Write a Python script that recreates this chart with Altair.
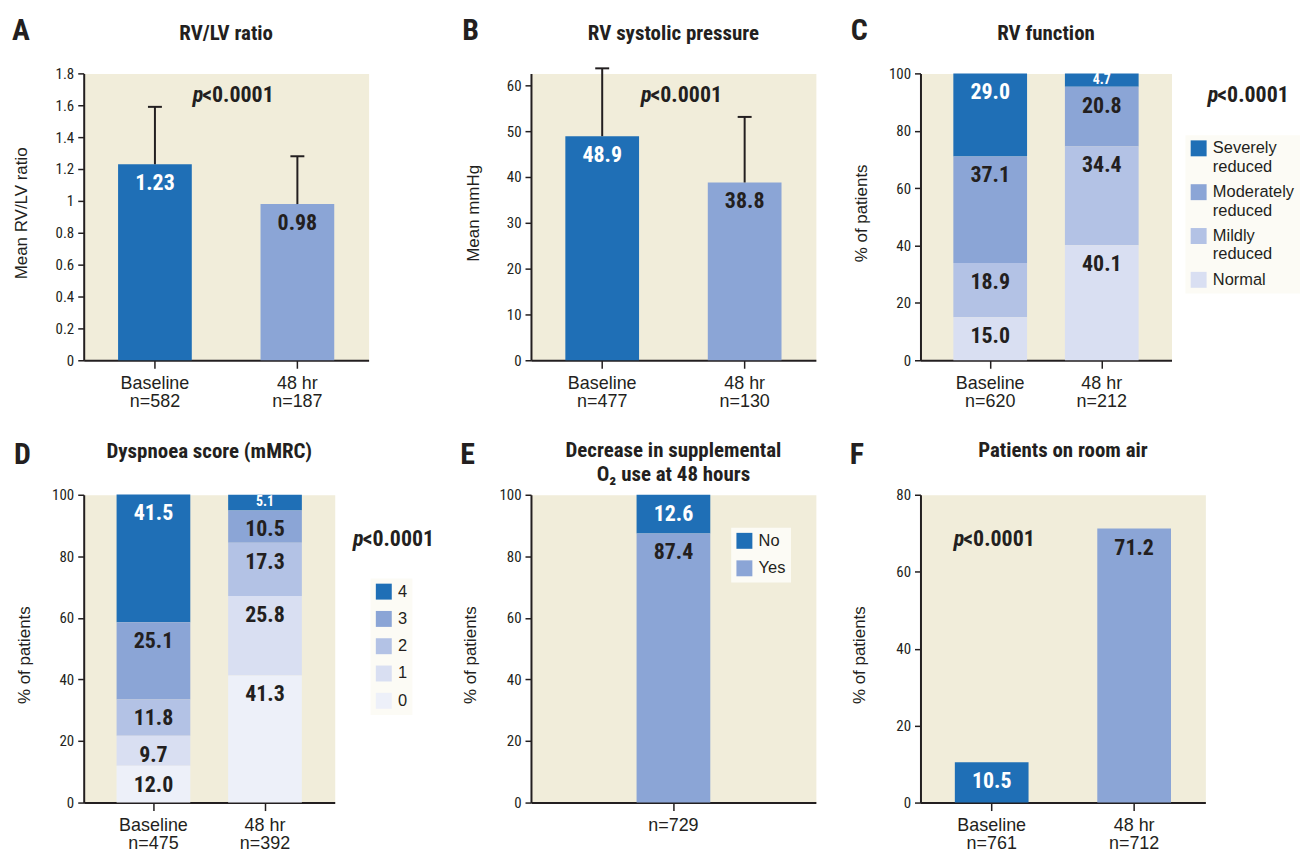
import altair as alt
import pandas as pd

# ---------------- data ----------------
GROUPS = ["Baseline", "48 hr"]

A_N = ["n=582", "n=187"]
A_MEAN = [1.23, 0.98]
A_UPPER = [1.59, 1.28]
A_TICKS = [0, 0.2, 0.4, 0.6, 0.8, 1, 1.2, 1.4, 1.6, 1.8]

B_N = ["n=477", "n=130"]
B_MEAN = [48.9, 38.8]
B_UPPER = [63.7, 53.1]
B_TICKS = [0, 10, 20, 30, 40, 50, 60]

C_N = ["n=620", "n=212"]
C_LEVELS = ["Severely|reduced", "Moderately|reduced", "Mildly|reduced", "Normal"]
C_BASELINE = [29.0, 37.1, 18.9, 15.0]
C_48HR = [4.7, 20.8, 34.4, 40.1]

D_N = ["n=475", "n=392"]
D_LEVELS = ["4", "3", "2", "1", "0"]
D_BASELINE = [41.5, 25.1, 11.8, 9.7, 12.0]
D_48HR = [5.1, 10.5, 17.3, 25.8, 41.3]

E_N = ["n=729"]
E_LEVELS = ["No", "Yes"]
E_VALUES = [12.6, 87.4]

F_N = ["n=761", "n=712"]
F_VALUES = [10.5, 71.2]
F_TICKS = [0, 20, 40, 60, 80]

PCT_TICKS = [0, 20, 40, 60, 80, 100]
P_TEXT = "<0.0001"

# ---------------- style ----------------
DARK = "#1f6fb6"
MED = "#8ba5d6"
LIGHT = "#b3c2e5"
PALE = "#d9dff2"
PALEST = "#edf0f9"
BEIGE = "#f1edda"
LEGBG = "#fcfbf5"
INK = "#231f20"
NARROW = "Roboto Condensed, Liberation Sans Narrow, Arial Narrow, DejaVu Sans Condensed, sans-serif"
REG = "Liberation Sans, Arial, Helvetica, sans-serif"

ONE = pd.DataFrame({"k": [0]})
VIEW = alt.ViewBackground(fill=BEIGE, stroke="transparent")


def note(text, x, y, size, style="normal", align="left", lh=None):
    kw = dict(text=text, font=NARROW, fontSize=size, fontWeight="bold", fontStyle=style,
              align=align, baseline="alphabetic", color=INK)
    if lh is not None:
        kw["lineHeight"] = lh
    return alt.Chart(ONE).mark_text(**kw).encode(x=alt.value(x), y=alt.value(y))


def pvalue(x0, y):
    return [note("p", x0 + 1, y, 22, style="italic", align="right"), note(P_TEXT, x0, y, 22)]


def header(letter, title, width, lx, ly, ty, lh=None):
    return [note(letter, lx, ly, 30), note(title, width / 2, ty, 21, align="center", lh=lh)]


def x_enc(domain, po):
    return alt.X("g:N", scale=alt.Scale(domain=domain, paddingInner=0, paddingOuter=po),
                 axis=alt.Axis(title=None, labelExpr="split(datum.label, '|')", labelAngle=0,
                               labelLineHeight=18.5, labelFont=REG, labelFontSize=18,
                               labelPadding=6, tickSize=8, labelBaseline="top"))


def y_axis(domain, values, fmt, title, tx, ty):
    def make(field):
        return alt.Y(f"{field}:Q", scale=alt.Scale(domain=domain, nice=False, zero=True),
                     axis=alt.Axis(title=title, values=values, format=fmt, titleX=tx, titleY=ty,
                                   titleAngle=270, titleAlign="center", titleBaseline="middle",
                                   tickSize=6, labelPadding=4, labelOverlap=False))
    return make


def simple_panel(letter, title, ns, vals, upper, ydomain, yvalues, yfmt, ytitle, tx, ty,
                 w, h, valfmt, lx, ly, tty, pxy):
    labels = [f"{g}|{n}" for g, n in zip(GROUPS, ns)]
    data = {"g": labels, "grp": GROUPS, "v": vals, "lc": ["white", INK]}
    if upper:
        data["up"] = upper
    base = alt.Chart(pd.DataFrame(data))
    x = x_enc(labels, 0)
    Y = y_axis(ydomain, yvalues, yfmt, ytitle, tx, ty)
    layers = [base.mark_bar(size=74).encode(
        x=x, y=Y("v"),
        color=alt.Color("grp:N", scale=alt.Scale(domain=GROUPS, range=[DARK, MED]), legend=None))]
    if upper:
        layers.append(base.mark_rule(color=INK, strokeWidth=2).encode(x=x, y=Y("v"), y2="up:Q"))
        layers.append(base.mark_tick(color=INK, orient="horizontal", size=14, thickness=2,
                                     opacity=1).encode(x=x, y=Y("up")))
    layers.append(base.mark_text(font=NARROW, fontWeight="bold", fontSize=22, baseline="middle",
                                 dy=19).encode(x=x, y=Y("v"), text=alt.Text("v:Q", format=valfmt),
                                               color=alt.Color("lc:N", scale=None)))
    layers += header(letter, title, w, lx, ly, tty) + pvalue(*pxy)
    return alt.layer(*layers).properties(width=w, height=h, view=VIEW)


def stacked_panel(letter, title, xlabels, levels, table, colors, tx, ty, w, h, po,
                  legend, lx, ly, tty, tlh=None, pxy=None):
    rows = []
    nlev = len(levels)
    for lab, vals in zip(xlabels, table):
        for i, (lev, v) in enumerate(zip(levels, vals)):
            rows.append({"g": lab, "lev": lev, "v": v, "rank": nlev - 1 - i,
                         "lc": "white" if i == 0 else INK, "small": bool(v < 6)})
    base = alt.Chart(pd.DataFrame(rows)).transform_stack(
        stack="v", groupby=["g"], as_=["y0", "y1"], sort=[alt.SortField("rank", order="ascending")])
    x = x_enc(xlabels, po)
    Y = y_axis([0, 100], PCT_TICKS, "d", "% of patients", tx, ty)
    bars = base.mark_bar(size=74).encode(
        x=x, y=Y("y0"), y2="y1:Q",
        color=alt.Color("lev:N", scale=alt.Scale(domain=levels, range=colors), legend=legend))
    big = base.transform_filter("!datum.small").mark_text(
        font=NARROW, fontWeight="bold", fontSize=22, baseline="middle", dy=19).encode(
        x=x, y=Y("y1"), text=alt.Text("v:Q", format=".1f"), color=alt.Color("lc:N", scale=None))
    small = base.transform_filter("datum.small").mark_text(
        font=NARROW, fontWeight="bold", fontSize=14, baseline="middle", dy=7).encode(
        x=x, y=Y("y1"), text=alt.Text("v:Q", format=".1f"), color=alt.Color("lc:N", scale=None))
    layers = [bars, big, small] + header(letter, title, w, lx, ly, tty, tlh)
    if pxy:
        layers += pvalue(*pxy)
    return alt.layer(*layers).properties(width=w, height=h, view=VIEW)


def legend(x, y, row_pad):
    return alt.Legend(title=None, orient="none", legendX=x, legendY=y, direction="vertical",
                      symbolType="square", symbolSize=256, symbolStrokeWidth=0, symbolOpacity=1,
                      labelFont=REG, labelFontSize=16.5, labelColor=INK, labelLimit=300,
                      labelExpr="split(datum.label, '|')", labelOffset=6,
                      fillColor=LEGBG, padding=5, rowPadding=row_pad)


def spacer(w):
    return alt.Chart(ONE).mark_point(opacity=0).encode(x=alt.value(0), y=alt.value(0)).properties(
        width=w, height=10, view=alt.ViewBackground(fill="transparent", stroke="transparent"))


H1, H2 = 288, 309

pA = simple_panel("A", "RV/LV ratio", A_N, A_MEAN, A_UPPER, [0, 1.8], A_TICKS, ".1~f",
                  "Mean RV/LV ratio", -62, H1 / 2 - 4, 286, H1, ".2f", -72, -34, -34, (119, 29))
pB = simple_panel("B", "RV systolic pressure", B_N, B_MEAN, B_UPPER, [0, 62.6], B_TICKS, "d",
                  "Mean mmHg", -58, H1 / 2 - 4, 286, H1, ".1f", -69, -34, -34, (120, 29))
pC = stacked_panel("C", "RV function", [f"{g}|{n}" for g, n in zip(GROUPS, C_N)], C_LEVELS,
                   [C_BASELINE, C_48HR], [DARK, MED, LIGHT, PALE], -59, H1 / 2 - 4, 252, H1, 0.125,
                   legend(266, 62, 8), -70, -34, -34, pxy=(298, 29))
pD = stacked_panel("D", "Dyspnoea score (mMRC)", [f"{g}|{n}" for g, n in zip(GROUPS, D_N)],
                   D_LEVELS, [D_BASELINE, D_48HR], [DARK, MED, LIGHT, PALE, PALEST],
                   -59, H2 / 2 + 6, 252, H2, 0.125, legend(288, 84, 10.4), -70, -31, -37,
                   pxy=(280, 51))
pE = stacked_panel("E", ["Decrease in supplemental", "O\u2082 use at 48 hours"], E_N, E_LEVELS,
                   [E_VALUES], [DARK, MED], -61, H2 / 2 + 6, 286, H2, 0,
                   legend(201, 33, 10.6), -71, -31, -38, tlh=24)
pF = simple_panel("F", "Patients on room air", F_N, F_VALUES, None, [0, 80], F_TICKS, "d",
                  "% of patients", -61, H2 / 2 + 6, 286, H2, ".1f", -71, -31, -38, (43, 51))

chart = alt.concat(
    pA, spacer(163), pB, spacer(105), pC,
    pD, spacer(163), pE, spacer(105), pF,
    columns=5, spacing={"row": 135, "column": 0}, bounds="flush", align="each",
).resolve_scale(color="independent").resolve_legend(color="independent").configure_axis(
    domainColor=INK, domainWidth=2, tickColor=INK, tickWidth=1.5, labelColor=INK,
    titleColor=INK, labelFont=NARROW, labelFontSize=15, titleFont=REG, titleFontSize=17,
    titleFontWeight="normal", grid=False, labelOverlap=False,
).configure_view(stroke="transparent").properties(
    padding={"left": 3, "top": 5, "right": 0, "bottom": 0}, background="white")

chart.save("out.html", embed_options={"renderer": "svg", "actions": False})
